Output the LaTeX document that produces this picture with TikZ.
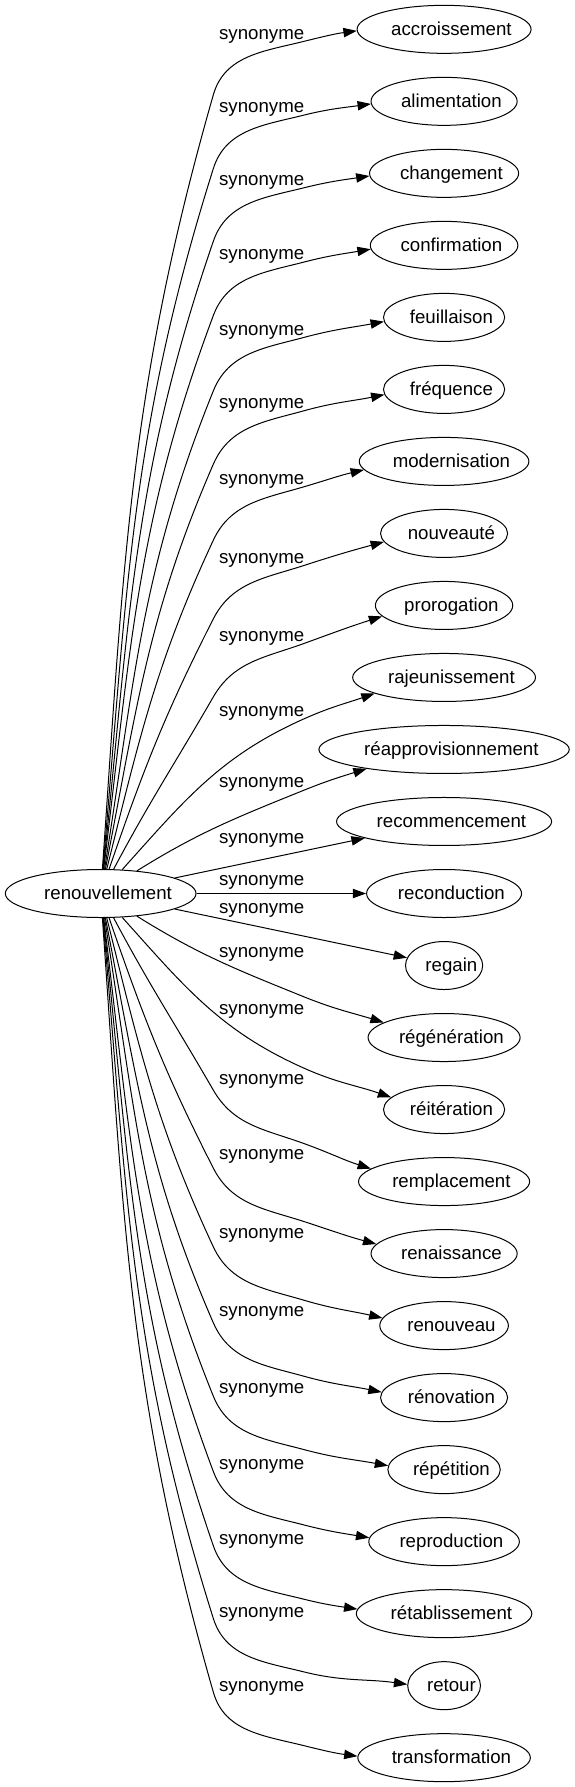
\documentclass[tikz,border=0pt]{standalone}
\usepackage{fontspec}
\setmainfont{Liberation Sans}
\usetikzlibrary{arrows.meta,shapes.geometric}
\newcommand\shtxt[1]{\hspace*{5.5pt}#1\hspace*{-5.5pt}}
\tikzset{
  ell/.style={ellipse, draw, line width=0.75pt, minimum height=36pt, inner xsep=1pt, inner ysep=0pt,
    text height=10.4pt, text depth=1.2pt, font=\fontsize{14pt}{16pt}\selectfont},
  lab/.style={inner sep=0pt, font=\fontsize{14pt}{16pt}\selectfont},
  edge/.style={draw, line width=0.75pt, -{Triangle[length=10pt,width=7pt]}}
}
\begin{document}
\begin{tikzpicture}[x=1pt,y=1pt]
\useasboundingbox (0,0) rectangle (430.5,-1340);
\node[ell, minimum width=143pt] (main) at (75.5,-670) {\shtxt{renouvellement}};
\foreach \w [count=\i from 0] in {accroissement,alimentation,changement,confirmation,feuillaison,fréquence,modernisation,nouveauté,prorogation,rajeunissement,réapprovisionnement,recommencement,reconduction,regain,régénération,réitération,remplacement,renaissance,renouveau,rénovation,répétition,reproduction,rétablissement,retour,transformation}
  \node[ell] (n\i) at (333,{-22-54*\i}) {\shtxt{\w}};
\foreach \y [count=\i from 0] in {27,82.3,136.8,192.5,249,304,361,420,478.5,535,588.5,630,662,682.5,716,758.5,811,867.3,926.4,984.7,1042.5,1099.6,1155.8,1210.8,1266}
  \node[lab] (l\i) at (196.2,-\y) {synonyme};
% upper edges
\draw[edge] (main) to[out=86,in=254] (160,-71) to[out=74,in=194] (228,-31) to[out=14,in=187.5] (n0.181);
\draw[edge] (main) to[out=85,in=252.5] (160,-126.3) to[out=72.5,in=194] (228,-86.3) to[out=14,in=188] (n1.182);
\draw[edge] (main) to[out=84,in=251] (160,-180.8) to[out=71,in=194] (228,-140.8) to[out=14,in=188.5] (n2.182.5);
\draw[edge] (main) to[out=83,in=249.5] (160,-236.5) to[out=69.5,in=194.5] (228,-196.5) to[out=14.5,in=189.5] (n3.183);
\draw[edge] (main) to[out=81,in=248] (160,-293) to[out=68,in=195] (228,-253) to[out=15,in=190.5] (n4.184);
\draw[edge] (main) to[out=79,in=246.5] (160,-348) to[out=66.5,in=195.5] (228,-308) to[out=15.5,in=191.5] (n5.185);
\draw[edge] (main) to[out=76,in=245] (160,-405) to[out=65,in=196.5] (228,-365) to[out=16.5,in=193] (n6.186.5);
\draw[edge] (main) to[out=71,in=243] (160,-464) to[out=63,in=198] (228,-424) to[out=18,in=195] (n7.188);
\draw[edge] (main) to[out=62,in=240] (160,-522.5) to[out=60,in=200] (228,-482.5) to[out=20,in=197.5] (n8.190);
\draw[edge] (main) to[out=48,in=204] (228,-539) to[out=24,in=199] (n9.193);
\draw[edge] (main) to[out=32,in=202] (228,-592.5) to[out=22,in=197] (n10.194);
\draw[edge] (main) -- (n11);
\draw[edge] (main) -- (n12);
% lower edges
\draw[edge] (main) -- (n13);
\draw[edge] (main) to[out=-32,in=158] (228,-747.5) to[out=-22,in=163] (n14.166);
\draw[edge] (main) to[out=-48,in=156] (228,-801) to[out=-24,in=161] (n15.167);
\draw[edge] (main) to[out=-62,in=120] (160,-817.5) to[out=-60,in=160] (228,-857.5) to[out=-20,in=162.5] (n16.170);
\draw[edge] (main) to[out=-71,in=117] (160,-876) to[out=-63,in=162] (228,-916) to[out=-18,in=165] (n17.172);
\draw[edge] (main) to[out=-76,in=115] (160,-935) to[out=-65,in=163.5] (228,-975) to[out=-16.5,in=167] (n18.173.5);
\draw[edge] (main) to[out=-79,in=113.5] (160,-992) to[out=-66.5,in=164.5] (228,-1032) to[out=-15.5,in=168.5] (n19.175);
\draw[edge] (main) to[out=-81,in=112] (160,-1047) to[out=-68,in=165] (228,-1087) to[out=-15,in=169.5] (n20.176);
\draw[edge] (main) to[out=-83,in=110.5] (160,-1103.5) to[out=-69.5,in=165.5] (228,-1143.5) to[out=-14.5,in=170.5] (n21.177);
\draw[edge] (main) to[out=-84,in=109] (160,-1159.2) to[out=-71,in=166] (228,-1199.2) to[out=-14,in=171.5] (n22.177.5);
\draw[edge] (main) to[out=-85,in=107.5] (160,-1213.7) to[out=-72.5,in=166] (228,-1253.7) to[out=-14,in=172] (n23.178);
\draw[edge] (main) to[out=-86,in=106] (160,-1269) to[out=-74,in=166] (228,-1309) to[out=-14,in=172.5] (n24.179);
\end{tikzpicture}
\end{document}
